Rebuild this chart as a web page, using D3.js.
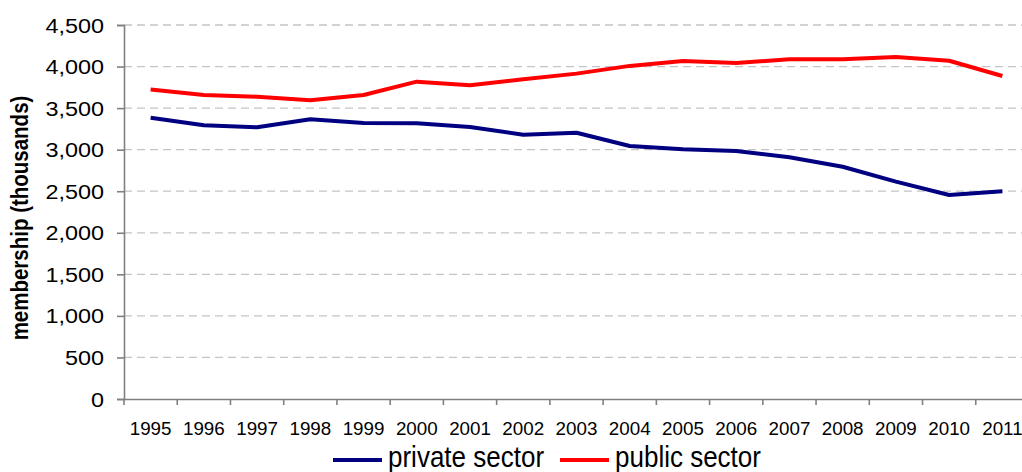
<!DOCTYPE html>
<html>
<head>
<meta charset="utf-8">
<script src="https://cdn.jsdelivr.net/npm/d3@7"></script>
<style>
  html, body { margin: 0; padding: 0; background: #fff; }
  svg { display: block; font-family: Arial, "Liberation Sans", sans-serif; }
</style>
</head>
<body>
<svg id="chart" width="1022" height="472"></svg>
<script>
// Union membership by sector, thousands
const years = ["1995","1996","1997","1998","1999","2000","2001","2002","2003",
               "2004","2005","2006","2007","2008","2009","2010","2011"];
const privateSector = [3385, 3293, 3269, 3365, 3320, 3318, 3273, 3180, 3204,
                       3044, 3004, 2984, 2908, 2795, 2615, 2454, 2499];
const publicSector  = [3724, 3658, 3637, 3594, 3658, 3818, 3776, 3846, 3915,
                       4008, 4068, 4043, 4087, 4087, 4115, 4070, 3886];
const yTicks = [0, 500, 1000, 1500, 2000, 2500, 3000, 3500, 4000, 4500];

const series = [
  { name: "private sector", values: privateSector, color: "#000080" },
  { name: "public sector",  values: publicSector,  color: "#ff0000" }
];

const svg = d3.select("#chart");
const plotLeft = 124, plotRight = 1029, plotTop = 25, plotBottom = 399;

const x = d3.scaleBand().domain(years).range([plotLeft, plotRight]).padding(0);
const y = d3.scaleLinear().domain([0, 4500]).range([plotBottom, plotTop]);

// horizontal dashed gridlines
svg.append("g")
  .selectAll("line")
  .data(yTicks.filter(d => d > 0))
  .join("line")
  .attr("x1", plotLeft).attr("x2", plotRight)
  .attr("y1", d => y(d)).attr("y2", d => y(d))
  .attr("stroke", "#c4c4c4")
  .attr("stroke-width", 1.3)
  .attr("stroke-dasharray", "8,5");

// y axis
const yAxis = svg.append("g")
  .attr("transform", `translate(${plotLeft},0)`)
  .call(d3.axisLeft(y).tickValues(yTicks).tickFormat(d3.format(",")).tickSize(7).tickPadding(0));
yAxis.select(".domain").attr("stroke", "#808080").attr("stroke-width", 1.6);
yAxis.selectAll(".tick line").attr("stroke", "#808080").attr("stroke-width", 1.6);
yAxis.selectAll(".tick text")
  .attr("font-size", 19.5)
  .attr("font-family", "Arial, 'Liberation Sans', sans-serif")
  .attr("fill", "#000")
  .attr("x", -20 / 1.2)
  .attr("dy", "0.36em")
  .attr("transform", "scale(1.2,1)");

// x axis: labels centred in each band, tick marks on band boundaries
const xAxis = svg.append("g")
  .attr("transform", `translate(0,${plotBottom})`)
  .call(d3.axisBottom(x).tickSize(0).tickPadding(0));
xAxis.select(".domain").attr("stroke", "#808080").attr("stroke-width", 1.6);
xAxis.selectAll(".tick text")
  .attr("font-size", 18.8)
  .attr("font-family", "Arial, 'Liberation Sans', sans-serif")
  .attr("fill", "#000")
  .attr("y", 36)
  .attr("dy", 0);

const boundaries = years.map(d => x(d)).concat([x.range()[1]]);
xAxis.append("g")
  .selectAll("line")
  .data(boundaries)
  .join("line")
  .attr("x1", d => d).attr("x2", d => d)
  .attr("y1", 0).attr("y2", 6)
  .attr("stroke", "#808080")
  .attr("stroke-width", 1.6);

// y axis title
svg.append("text")
  .attr("transform", "translate(28,218) rotate(-90) scale(1,1.2)")
  .attr("text-anchor", "middle")
  .attr("font-size", 20.5)
  .attr("font-weight", "bold")
  .attr("fill", "#000")
  .text("membership (thousands)");

// series lines
const line = d3.line()
  .x((d, i) => x(years[i]) + x.bandwidth() / 2)
  .y(d => y(d));

svg.append("g")
  .selectAll("path")
  .data(series)
  .join("path")
  .attr("d", d => line(d.values))
  .attr("fill", "none")
  .attr("stroke", d => d.color)
  .attr("stroke-width", 4)
  .attr("stroke-linejoin", "round");

// legend
const legendItems = [
  { s: series[0], lx: 333, tx: 388 },
  { s: series[1], lx: 560, tx: 615 }
];
const legend = svg.append("g");
legendItems.forEach(it => {
  legend.append("line")
    .attr("x1", it.lx).attr("x2", it.lx + 49)
    .attr("y1", 460).attr("y2", 460)
    .attr("stroke", it.s.color)
    .attr("stroke-width", 4);
  legend.append("text")
    .attr("transform", `translate(${it.tx},467) scale(1,1.1)`)
    .attr("font-size", 26)
    .attr("fill", "#000")
    .text(it.s.name);
});
</script>
</body>
</html>
